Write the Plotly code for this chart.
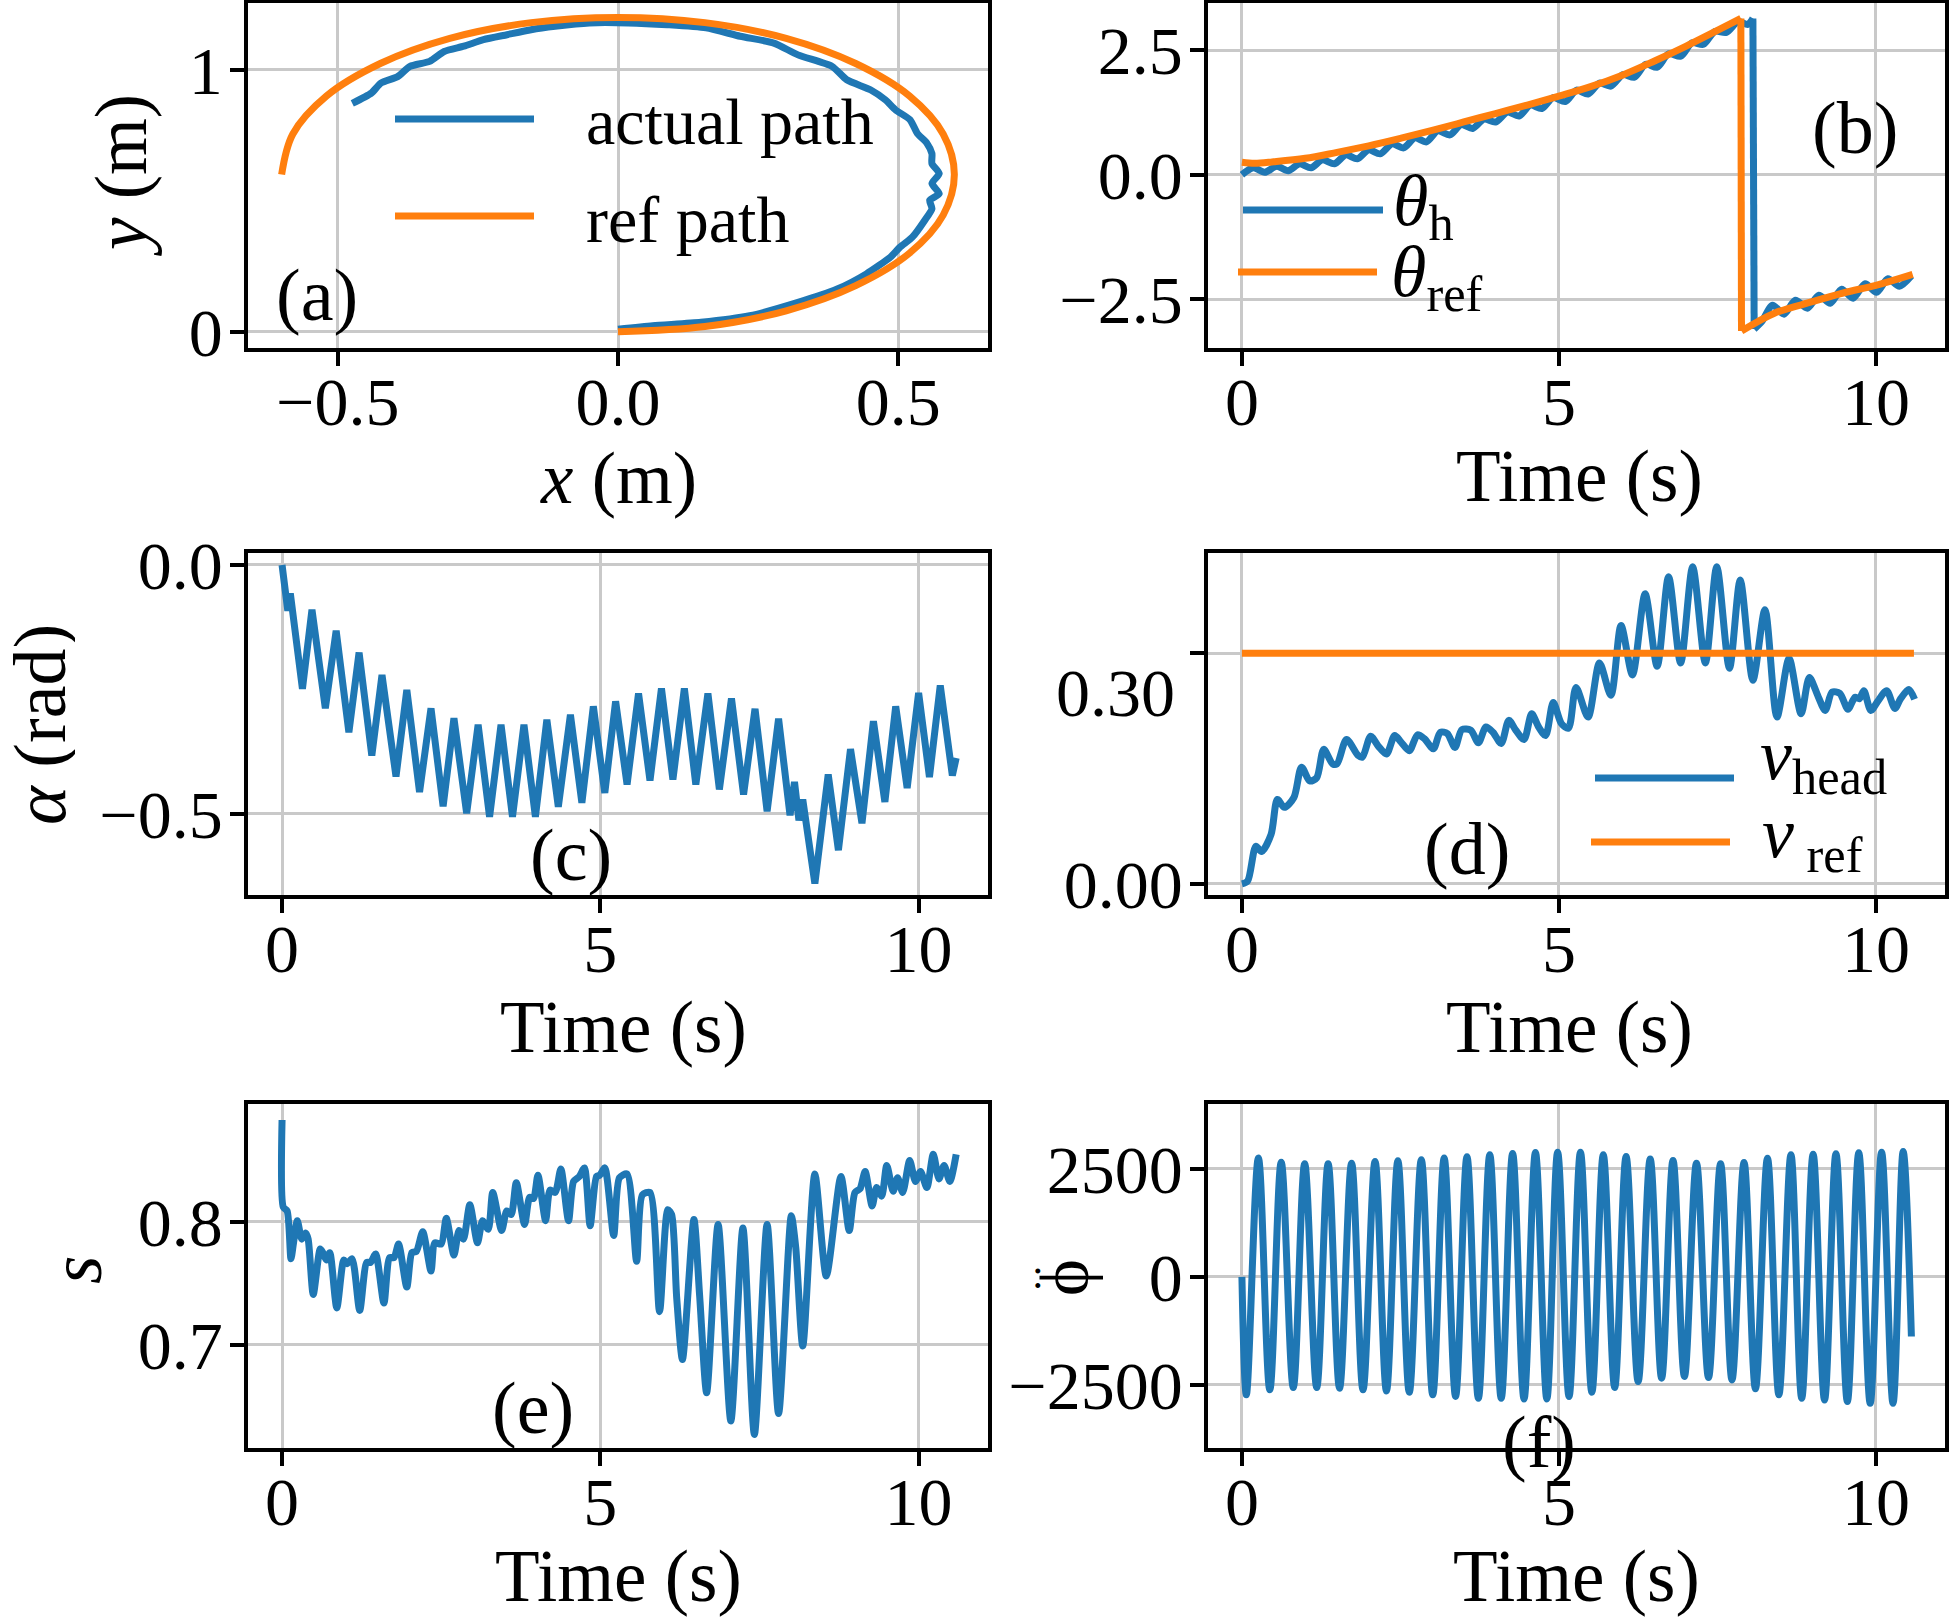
import plotly.graph_objects as go

# ---------------- data ----------------
# (a) paths
REF_X = [0.000, 0.155, 0.300, 0.424, 0.520, 0.580, 0.600, 0.580, 0.520, 0.424, 0.300, 0.155,
         0.000, -0.155, -0.300, -0.424, -0.520, -0.580, -0.600]
REF_Y = [0.000, 0.020, 0.080, 0.176, 0.300, 0.445, 0.600, 0.755, 0.900, 1.024, 1.120, 1.180,
         1.200, 1.180, 1.120, 1.024, 0.900, 0.755, 0.600]
ACT_X = [0.000, 0.062, 0.148, 0.235, 0.321, 0.391, 0.443, 0.486, 0.503, 0.525, 0.547, 0.560,
         0.556, 0.573, 0.560, 0.573, 0.560, 0.560, 0.551, 0.534, 0.521, 0.495, 0.477, 0.451,
         0.408, 0.382, 0.321, 0.278, 0.218, 0.157, 0.088, 0.018, -0.051, -0.112, -0.155,
         -0.198, -0.240, -0.275, -0.310, -0.336, -0.371, -0.393, -0.423, -0.440, -0.474]
ACT_Y = [0.010, 0.023, 0.036, 0.061, 0.112, 0.163, 0.221, 0.285, 0.323, 0.361, 0.425, 0.470,
         0.502, 0.527, 0.566, 0.604, 0.642, 0.680, 0.720, 0.757, 0.809, 0.847, 0.885, 0.923,
         0.962, 1.013, 1.057, 1.102, 1.128, 1.160, 1.172, 1.179, 1.179, 1.166, 1.153,
         1.134, 1.115, 1.090, 1.070, 1.032, 1.013, 0.974, 0.949, 0.911, 0.872]

# (b) heading angles
THETA_REF_T = [0.0, 0.2, 0.5, 1.0, 1.5, 2.0, 2.5, 3.0, 3.5, 4.0, 4.5, 5.0, 5.5, 6.0, 6.5,
               7.0, 7.5, 7.87, 7.88, 8.4, 9.0, 9.5, 10.0, 10.58]
THETA_REF = [0.25, 0.23, 0.26, 0.33, 0.45, 0.58, 0.73, 0.89, 1.06, 1.23, 1.40, 1.58, 1.77,
             2.00, 2.28, 2.58, 2.90, 3.14, -3.14, -2.78, -2.55, -2.37, -2.22, -2.00]
THETA_H_T = [0.00, 0.18, 0.36, 0.55, 0.73, 0.91, 1.09, 1.27, 1.46, 1.64,
             1.82, 2.00, 2.18, 2.37, 2.55, 2.73, 2.91, 3.09, 3.28, 3.46,
             3.64, 3.82, 4.00, 4.19, 4.37, 4.55, 4.73, 4.91, 5.10, 5.28,
             5.46, 5.64, 5.82, 6.01, 6.19, 6.37, 6.55, 6.73, 6.92, 7.10,
             7.28, 7.46, 7.64, 7.83, 7.98, 8.06, 8.08, 8.20, 8.37, 8.55,
             8.73, 8.92, 9.10, 9.28, 9.46, 9.64, 9.83, 10.01, 10.19, 10.37, 10.56]
THETA_H = [0.00, 0.14, 0.05, 0.17, 0.08, 0.22, 0.14, 0.30, 0.22, 0.40,
           0.32, 0.50, 0.42, 0.62, 0.54, 0.74, 0.66, 0.88, 0.80, 1.01,
           0.93, 1.12, 1.06, 1.26, 1.18, 1.40, 1.33, 1.55, 1.47, 1.70,
           1.62, 1.84, 1.78, 2.01, 1.96, 2.22, 2.16, 2.43, 2.38, 2.65,
           2.62, 2.88, 2.86, 3.08, 3.02, 3.14, -3.10, -2.95, -2.62, -2.80,
           -2.52, -2.68, -2.42, -2.58, -2.30, -2.48, -2.19, -2.36, -2.09, -2.24, -2.03]

# (c) alpha
ALPHA_T = [0.00, 0.09, 0.13, 0.32, 0.47, 0.68, 0.85, 1.05, 1.21, 1.41, 1.57, 1.79, 1.96,
           2.16, 2.34, 2.53, 2.70, 2.90, 3.08, 3.26, 3.44, 3.62, 3.80, 3.98, 4.16, 4.34,
           4.53, 4.71, 4.89, 5.07, 5.24, 5.42, 5.60, 5.78, 5.96, 6.14, 6.32, 6.50, 6.69,
           6.87, 7.06, 7.25, 7.43, 7.62, 7.80, 7.98, 8.05, 8.12, 8.18, 8.37, 8.58, 8.74,
           8.93, 9.11, 9.29, 9.47, 9.64, 9.82, 10.00, 10.17, 10.34, 10.53, 10.59]
ALPHA = [0.000, -0.092, -0.057, -0.249, -0.090, -0.288, -0.132, -0.336, -0.176, -0.383,
         -0.221, -0.425, -0.251, -0.456, -0.288, -0.485, -0.308, -0.499, -0.321, -0.506,
         -0.321, -0.506, -0.321, -0.506, -0.311, -0.486, -0.301, -0.478, -0.284, -0.458,
         -0.274, -0.441, -0.258, -0.433, -0.248, -0.431, -0.248, -0.441, -0.258, -0.451,
         -0.268, -0.461, -0.289, -0.495, -0.309, -0.503, -0.436, -0.513, -0.471, -0.640,
         -0.421, -0.573, -0.370, -0.519, -0.314, -0.476, -0.284, -0.448, -0.257, -0.426,
         -0.242, -0.423, -0.388]

# (d) head velocity
V_T = [0.00, 0.09, 0.22, 0.31, 0.46, 0.56, 0.67, 0.82, 0.94, 1.07, 1.18, 1.29, 1.43, 1.50,
       1.65, 1.83, 1.90, 2.03, 2.15, 2.28, 2.41, 2.51, 2.64, 2.77, 2.88, 3.02, 3.13, 3.24,
       3.36, 3.47, 3.61, 3.73, 3.85, 3.96, 4.09, 4.21, 4.32, 4.45, 4.57, 4.68, 4.79, 4.91,
       5.04, 5.15, 5.27, 5.46, 5.64, 5.82, 5.98, 6.16, 6.36, 6.55, 6.73, 6.92, 7.11, 7.31,
       7.49, 7.69, 7.86, 8.06, 8.25, 8.44, 8.63, 8.82, 8.95, 9.09, 9.20, 9.31, 9.43, 9.56,
       9.67, 9.74, 9.81, 9.92, 10.03, 10.17, 10.30, 10.39, 10.52, 10.61]
V_HEAD = [0.000, 0.004, 0.057, 0.049, 0.075, 0.128, 0.116, 0.131, 0.177, 0.156, 0.161,
          0.204, 0.182, 0.182, 0.219, 0.195, 0.192, 0.224, 0.209, 0.197, 0.225, 0.215,
          0.202, 0.226, 0.220, 0.205, 0.230, 0.228, 0.207, 0.234, 0.233, 0.214, 0.238,
          0.230, 0.213, 0.248, 0.233, 0.219, 0.258, 0.238, 0.225, 0.275, 0.243, 0.236,
          0.298, 0.253, 0.335, 0.286, 0.392, 0.317, 0.440, 0.330, 0.466, 0.335, 0.481,
          0.335, 0.481, 0.327, 0.461, 0.309, 0.416, 0.253, 0.342, 0.258, 0.313, 0.284,
          0.263, 0.291, 0.289, 0.265, 0.283, 0.281, 0.293, 0.263, 0.277, 0.293, 0.266,
          0.281, 0.295, 0.280]
V_REF_T = [0.0, 10.6]
V_REF = [0.35, 0.35]

# (e) s
S_T = [0.00, 0.02, 0.08, 0.14, 0.18, 0.24, 0.31, 0.37, 0.41, 0.49,
       0.60, 0.64, 0.70, 0.75, 0.86, 0.97, 1.02, 1.10, 1.22, 1.33,
       1.39, 1.47, 1.60, 1.69, 1.76, 1.83, 1.96, 2.04, 2.11, 2.21,
       2.34, 2.40, 2.50, 2.58, 2.70, 2.78, 2.85, 2.95, 3.07, 3.15,
       3.24, 3.31, 3.45, 3.53, 3.60, 3.68, 3.81, 3.89, 3.95, 4.02,
       4.14, 4.21, 4.29, 4.38, 4.50, 4.58, 4.67, 4.75, 4.84, 4.94,
       4.99, 5.07, 5.21, 5.30, 5.42, 5.57, 5.66, 5.78, 5.93, 6.06,
       6.12, 6.20, 6.29, 6.47, 6.56, 6.67, 6.85, 7.05, 7.24, 7.42,
       7.62, 7.80, 8.00, 8.07, 8.18, 8.37, 8.55, 8.78, 8.91, 9.00,
       9.08, 9.16, 9.27, 9.34, 9.42, 9.50, 9.60, 9.67, 9.75, 9.86,
       9.95, 10.03, 10.13, 10.23, 10.32, 10.40, 10.49, 10.59]
S_VAL = [0.883, 0.812, 0.809, 0.770, 0.783, 0.801, 0.786, 0.791, 0.786, 0.741,
         0.778, 0.775, 0.769, 0.775, 0.730, 0.769, 0.766, 0.770, 0.728, 0.767,
         0.767, 0.774, 0.734, 0.771, 0.771, 0.782, 0.747, 0.775, 0.776, 0.792,
         0.760, 0.783, 0.782, 0.803, 0.773, 0.793, 0.786, 0.814, 0.783, 0.801,
         0.794, 0.824, 0.793, 0.809, 0.806, 0.832, 0.798, 0.820, 0.819, 0.838,
         0.801, 0.826, 0.824, 0.843, 0.801, 0.833, 0.837, 0.844, 0.797, 0.837,
         0.838, 0.844, 0.789, 0.836, 0.839, 0.768, 0.822, 0.824, 0.727, 0.810,
         0.806, 0.738, 0.688, 0.802, 0.740, 0.661, 0.798, 0.638, 0.795, 0.627,
         0.798, 0.644, 0.805, 0.779, 0.699, 0.839, 0.756, 0.837, 0.793, 0.824,
         0.827, 0.841, 0.813, 0.828, 0.821, 0.846, 0.825, 0.836, 0.824, 0.850,
         0.833, 0.841, 0.828, 0.855, 0.835, 0.846, 0.833, 0.855]

# (f) phi double-dot
PHI_T = [0.00, 0.07, 0.26, 0.44, 0.62, 0.81, 0.99, 1.18, 1.36, 1.54,
         1.73, 1.91, 2.10, 2.28, 2.46, 2.64, 2.83, 3.01, 3.19, 3.37,
         3.55, 3.73, 3.91, 4.09, 4.27, 4.45, 4.63, 4.81, 4.98, 5.16,
         5.34, 5.52, 5.70, 5.88, 6.06, 6.25, 6.44, 6.62, 6.80, 6.98,
         7.17, 7.36, 7.55, 7.73, 7.92, 8.10, 8.29, 8.47, 8.66, 8.83,
         9.01, 9.19, 9.37, 9.55, 9.73, 9.91, 10.09, 10.27, 10.43, 10.56]
PHI_DD = [0, -2730, 2750, -2615, 2655, -2560, 2615, -2560, 2615, -2575,
          2630, -2615, 2670, -2640, 2685, -2670, 2710, -2730, 2750, -2770,
          2780, -2810, 2825, -2810, 2855, -2825, 2880, -2825, 2885, -2770,
          2885, -2670, 2825, -2560, 2785, -2420, 2725, -2345, 2695, -2305,
          2630, -2330, 2615, -2385, 2645, -2590, 2745, -2730, 2825, -2810,
          2840, -2850, 2850, -2885, 2870, -2925, 2885, -2925, 2900, -1380]

# tick definitions
TIME_TICKS = [0, 5, 10]
TIME_TICKTEXT = ["0", "5", "10"]
A_XTICKS = [-0.5, 0.0, 0.5]
A_XTEXT = ["\u22120.5", "0.0", "0.5"]
A_YTICKS = [0, 1]
A_YTEXT = ["0", "1"]
B_YTICKS = [-2.5, 0.0, 2.5]
B_YTEXT = ["\u22122.5", "0.0", "2.5"]
C_YTICKS = [-0.5, 0.0]
C_YTEXT = ["\u22120.5", "0.0"]
D_YTICKS = [0.0, 0.35]
D_YTEXT = ["0.00", ""]
E_YTICKS = [0.7, 0.8]
E_YTEXT = ["0.7", "0.8"]
F_YTICKS = [-2500, 0, 2500]
F_YTEXT = ["\u22122500", "0", "2500"]

# ---------------- styling / layout ----------------
W, H = 1949, 1620
BLUE = "#1f77b4"
ORANGE = "#ff7f0e"
FONT = "Liberation Serif"
LW = 7

def px(x):
    return x / W

def py(y):
    return 1 - y / H

COLS = {"L": (248, 988), "R": (1208, 1945)}
ROWS = {1: (3, 348), 2: (553, 895), 3: (1104, 1448)}

def axis(dom, rng, tickvals, ticktext, anchor, standoff):
    return dict(domain=dom, range=rng, tickvals=tickvals, ticktext=ticktext, anchor=anchor,
                automargin=False, ticklabelstandoff=standoff,
                showline=True, linecolor="black", linewidth=3.5, mirror=True,
                ticks="outside", ticklen=14, tickwidth=3.5, tickcolor="black",
                showgrid=True, gridcolor="#c9c9c9", gridwidth=3, zeroline=False,
                tickfont=dict(family=FONT, size=68, color="black"), fixedrange=True)

def xdom(c):
    a, b = COLS[c]
    return [px(a), px(b)]

def ydom(r):
    a, b = ROWS[r]
    return [py(b), py(a)]

TR = [-0.535, 11.09]
XS, YS = -22, -6
layout = dict(
    xaxis=axis(xdom("L"), [-0.66, 0.66], A_XTICKS, A_XTEXT, "y", XS),
    yaxis=axis(ydom(1), [-0.062, 1.255], A_YTICKS, A_YTEXT, "x", YS),
    xaxis2=axis(xdom("R"), TR, TIME_TICKS, TIME_TICKTEXT, "y2", XS),
    yaxis2=axis(ydom(1), [-3.48, 3.45], B_YTICKS, B_YTEXT, "x2", YS),
    xaxis3=axis(xdom("L"), TR, TIME_TICKS, TIME_TICKTEXT, "y3", XS),
    yaxis3=axis(ydom(2), [-0.663, 0.024], C_YTICKS, C_YTEXT, "x3", YS),
    xaxis4=axis(xdom("R"), TR, TIME_TICKS, TIME_TICKTEXT, "y4", XS),
    yaxis4=axis(ydom(2), [-0.017, 0.502], D_YTICKS, D_YTEXT, "x4", YS),
    xaxis5=axis(xdom("L"), TR, TIME_TICKS, TIME_TICKTEXT, "y5", XS),
    yaxis5=axis(ydom(3), [0.616, 0.896], E_YTICKS, E_YTEXT, "x5", YS),
    xaxis6=axis(xdom("R"), TR, TIME_TICKS, TIME_TICKTEXT, "y6", XS),
    yaxis6=axis(ydom(3), [-3960, 4000], F_YTICKS, F_YTEXT, "x6", YS),
)

fig = go.Figure()

def line(x, y, color, ax, shape="spline", smoothing=1.0):
    xa = "x" if ax == 1 else "x%d" % ax
    ya = "y" if ax == 1 else "y%d" % ax
    ln = dict(color=color, width=LW, shape=shape)
    if shape == "spline":
        ln["smoothing"] = smoothing
    fig.add_trace(go.Scatter(x=x, y=y, mode="lines", line=ln, xaxis=xa, yaxis=ya,
                             showlegend=False, hoverinfo="skip"))

def jump_index(vals):
    return max(range(len(vals) - 1), key=lambda k: abs(vals[k + 1] - vals[k]))

# (a)
line(ACT_X, ACT_Y, BLUE, 1, smoothing=0.6)
line(REF_X, REF_Y, ORANGE, 1)

# (b) : draw each series in pieces around the wrap-around jump
j = jump_index(THETA_H)
line(THETA_H_T[:j + 1], THETA_H[:j + 1], BLUE, 2, smoothing=0.8)
line(THETA_H_T[j:j + 2], THETA_H[j:j + 2], BLUE, 2, shape="linear")
line(THETA_H_T[j + 1:], THETA_H[j + 1:], BLUE, 2, smoothing=0.8)
j = jump_index(THETA_REF)
line(THETA_REF_T[:j + 1], THETA_REF[:j + 1], ORANGE, 2)
line(THETA_REF_T[j:j + 2], THETA_REF[j:j + 2], ORANGE, 2, shape="linear")
line(THETA_REF_T[j + 1:], THETA_REF[j + 1:], ORANGE, 2)

# (c)
line(ALPHA_T, ALPHA, BLUE, 3, shape="linear")
# (d)
line(V_T, V_HEAD, BLUE, 4, smoothing=0.8)
line(V_REF_T, V_REF, ORANGE, 4, shape="linear")
# (e)
line(S_T, S_VAL, BLUE, 5, smoothing=0.7)
# (f)
line(PHI_T, PHI_DD, BLUE, 6, smoothing=1.0)

# ---------------- text ----------------
annotations = []

def ann(text, x, y, size, xanchor="center", yanchor="middle", angle=0, height=None):
    d = dict(text=text, x=px(x), y=py(y), xref="paper", yref="paper",
             xanchor=xanchor, yanchor=yanchor, showarrow=False, textangle=angle,
             font=dict(family=FONT, size=size, color="black"))
    if height is not None:
        d["height"] = height
    annotations.append(d)

# axis titles
ann("<i>x</i> (m)", 618, 478, 73)
ann("Time (s)", 1579, 476, 73)
ann("Time (s)", 623, 1027, 73)
ann("Time (s)", 1569, 1027, 73)
ann("Time (s)", 618, 1620, 73, yanchor="bottom", height=84)
ann("Time (s)", 1576, 1620, 73, yanchor="bottom", height=84)
ann("<i>y</i> (m)", 122, 176, 73, angle=-90)
ann("<i>\u03b1</i> (rad)", 40, 725, 74, angle=-90, height=70)
ann("<i>s</i>", 76, 1270, 73, angle=-90)
# rotated phi with its double dot (the two dots stack vertically once rotated)
ann("\u03d5", 1064, 1278, 70, angle=-90)
ann(":", 1038, 1274, 42)
# odd tick label of (d)
ann("0.30", 1177, 693, 68, xanchor="right")
# panel letters
ann("(a)", 317, 295, 74)
ann("(b)", 1855, 128, 74)
ann("(c)", 571, 855, 74)
ann("(d)", 1467, 849, 74)
ann("(e)", 533, 1408, 74)
ann("(f)", 1539, 1442, 74)
# legends
ann("actual path", 584, 122, 66, xanchor="left")
ann("ref path", 584, 219, 66, xanchor="left")
ann("<i>\u03b8</i><sub>h</sub>", 1391, 206, 72, xanchor="left")
ann("<i>\u03b8</i><sub>ref</sub>", 1389, 277, 72, xanchor="left")
ann("<i>v</i><sub>head</sub>", 1758, 760, 72, xanchor="left")
ann("<i>v</i><sub> ref</sub>", 1760, 838, 72, xanchor="left")

shapes = []

def swatch(x0, x1, y, color):
    shapes.append(dict(type="line", xref="paper", yref="paper", x0=px(x0), x1=px(x1),
                       y0=py(y), y1=py(y), line=dict(color=color, width=LW)))

swatch(395, 534, 119, BLUE)
swatch(395, 534, 216, ORANGE)
swatch(1243, 1383, 210, BLUE)
swatch(1238, 1377, 272, ORANGE)
swatch(1595, 1734, 778, BLUE)
swatch(1591, 1730, 842, ORANGE)

fig.update_layout(width=W, height=H, margin=dict(l=0, r=0, t=0, b=0, autoexpand=False),
                  paper_bgcolor="white", plot_bgcolor="white", showlegend=False,
                  annotations=annotations, shapes=shapes, **layout)

fig.write_html("out.html")
